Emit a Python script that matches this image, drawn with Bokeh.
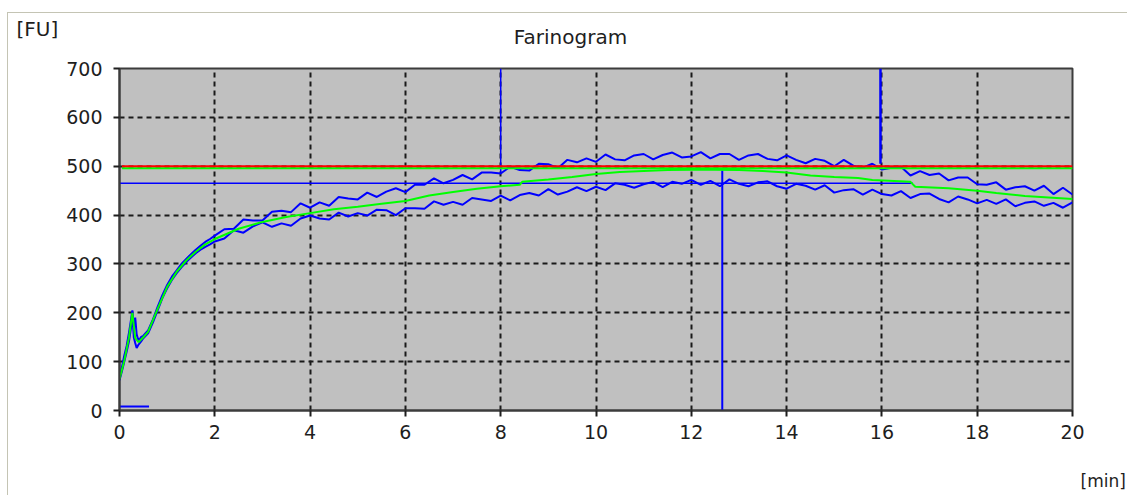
from bokeh.plotting import figure
from bokeh.models import Range1d, FixedTicker
from bokeh.layouts import column
from bokeh.core.properties import value
from bokeh.embed import file_html
from bokeh.resources import INLINE

# ---- data (minutes, FU) ----
t_early = [0.0, 0.05, 0.1, 0.15, 0.2, 0.24, 0.27, 0.3, 0.33, 0.36, 0.4, 0.45, 0.5, 0.6,
           0.7, 0.8, 0.9, 1.0, 1.1, 1.2, 1.3, 1.4, 1.5, 1.6, 1.7, 1.8, 1.9, 2.0]
upper_early = [66, 88, 112, 132, 160, 185, 205, 172, 190, 156, 142, 150, 153, 164,
               186, 212, 236, 257, 274, 287, 300, 310, 320, 329, 337, 345, 351, 358]
lower_early = [62, 80, 100, 120, 142, 168, 196, 150, 138, 128, 135, 141, 148, 158,
               180, 205, 230, 250, 267, 281, 293, 304, 313, 322, 329, 335, 340, 346]

t_main = [2.2, 2.4, 2.6, 2.8, 3.0, 3.2, 3.4, 3.6, 3.8, 4.0, 4.2, 4.4, 4.6, 4.8, 5.0,
          5.2, 5.4, 5.6, 5.8, 6.0, 6.2, 6.4, 6.6, 6.8, 7.0, 7.2, 7.4, 7.6, 7.8, 8.0,
          8.2, 8.4, 8.6, 8.8, 9.0, 9.2, 9.4, 9.6, 9.8, 10.0, 10.2, 10.4, 10.6, 10.8, 11.0,
          11.2, 11.4, 11.6, 11.8, 12.0, 12.2, 12.4, 12.6, 12.8, 13.0, 13.2, 13.4, 13.6, 13.8, 14.0,
          14.2, 14.4, 14.6, 14.8, 15.0, 15.2, 15.4, 15.6, 15.8, 16.0, 16.2, 16.4, 16.6, 16.8, 17.0,
          17.2, 17.4, 17.6, 17.8, 18.0, 18.2, 18.4, 18.6, 18.8, 19.0, 19.2, 19.4, 19.6, 19.8, 20.0]
upper_main = [371, 372, 391, 389, 389, 407, 409, 406, 424, 415, 426, 419, 437, 434, 432,
              446, 437, 448, 455, 447, 462, 462, 475, 465, 472, 482, 473, 487, 487, 485,
              499, 492, 491, 505, 504, 496, 513, 508, 516, 509, 524, 514, 512, 522, 525,
              514, 523, 528, 518, 520, 529, 516, 525, 525, 513, 522, 525, 515, 512, 522,
              513, 506, 515, 511, 500, 513, 501, 497, 505, 493, 497, 499, 481, 490, 482,
              485, 471, 477, 477, 463, 462, 467, 452, 457, 459, 450, 460, 443, 456, 442]
lower_main = [352, 369, 364, 377, 385, 376, 383, 378, 393, 399, 393, 391, 405, 397, 404,
              399, 411, 410, 400, 414, 414, 413, 428, 421, 427, 421, 435, 432, 429, 440,
              430, 441, 445, 440, 453, 442, 448, 457, 449, 458, 451, 465, 462, 456, 463,
              468, 457, 468, 464, 472, 462, 470, 459, 473, 464, 459, 467, 469, 459, 454,
              464, 460, 452, 461, 446, 451, 453, 442, 452, 443, 440, 449, 435, 443, 444,
              433, 426, 438, 432, 424, 431, 423, 432, 418, 425, 428, 419, 425, 415, 426]

t_med = [0, 0.1, 0.2, 0.27, 0.33, 0.4, 0.5, 0.6, 0.8, 1.0, 1.2, 1.4, 1.6, 1.8, 2.0, 2.5,
         3.0, 3.5, 4.0, 4.5, 5.0, 5.5, 6.0, 6.5, 7.0, 7.5, 8.0, 8.4, 8.45, 9.0, 9.5, 10.0,
         10.5, 11.0, 11.5, 12.0, 12.5, 13.0, 13.5, 14.0, 14.5, 15.0, 15.5, 15.8, 16.6, 16.7,
         17.4, 18.0, 18.4, 19.0, 19.5, 20.0]
median = [64, 102, 150, 200, 148, 140, 150, 161, 208, 253, 284, 307, 325, 340, 351, 372,
          386, 396, 404, 412, 417, 423, 429, 440, 447, 454, 459, 462, 468, 473, 478, 484,
          488, 490, 492, 493, 493, 492, 490, 487, 481, 478, 476, 472, 468, 458,
          455, 450, 445, 439, 436, 433]

consistency_line = 500          # FU target (red)
consistency_green = 496         # green reference just under the red line
dev_level = 465                 # blue horizontal marker
dev_level_end = 16.65
arrival_time = 8.0              # blue vertical marker
arrival_top, arrival_bottom = 700, 487
stability_time = 12.65          # blue vertical marker down to axis
stability_top = 491
spike_time = 15.97
spike_top, spike_bottom = 700, 505
base_seg_x = [0.0, 0.62]
base_seg_y = [8, 8]

x_ticks = [0, 2, 4, 6, 8, 10, 12, 14, 16, 18, 20]
y_ticks = [0, 100, 200, 300, 400, 500, 600, 700]

title_text = "Farinogram"
y_unit = "[FU]"
x_unit = "[min]"

FONT = "DejaVu Sans"
TXT = "#1e1e1e"
W = 1119
HEADER_H = 43
MAIN_H = 391
FOOTER_H = 48


def text_strip(height):
    f = figure(width=W, height=height, output_backend="svg", toolbar_location=None,
               x_range=Range1d(0, W), y_range=Range1d(height, 0),
               x_axis_type=None, y_axis_type=None, min_border=0,
               background_fill_color="white", border_fill_color="white")
    f.frame_align = False
    f.title = None
    f.outline_line_color = None
    f.xgrid.visible = False
    f.ygrid.visible = False
    return f


# ---- header: unit of the y axis and chart title ----
header = text_strip(HEADER_H)
header.text(x=[8], y=[15], text=[y_unit], text_font=value(FONT), text_font_size=value("20px"),
            text_color=TXT, text_align="left", text_baseline="middle")
header.text(x=[562], y=[23], text=[title_text], text_font=value(FONT),
            text_font_size=value("20px"), text_color=TXT, text_align="center",
            text_baseline="middle")

# ---- main plot ----
p = figure(width=W, height=MAIN_H, output_backend="svg", toolbar_location=None,
           x_range=Range1d(0, 20), y_range=Range1d(0, 700),
           min_border_left=111, min_border_right=55, min_border_top=12, min_border_bottom=37,
           background_fill_color="#c0c0c0", border_fill_color="white")
p.title = None
p.outline_line_color = "#3c3c3c"
p.outline_line_width = 2

for ax in (p.xaxis[0], p.yaxis[0]):
    ax.axis_line_color = "#3c3c3c"
    ax.axis_line_width = 2
    ax.major_tick_line_color = "#1e1e1e"
    ax.major_tick_line_width = 2
    ax.major_tick_out = 6
    ax.major_tick_in = 0
    ax.minor_tick_line_color = None
    ax.major_label_text_font = FONT
    ax.major_label_text_font_size = "19px"
    ax.major_label_text_color = TXT
p.xaxis[0].ticker = FixedTicker(ticks=x_ticks)
p.yaxis[0].ticker = FixedTicker(ticks=y_ticks)
p.xaxis[0].major_label_standoff = 8
p.yaxis[0].major_label_standoff = 11

for g in (p.xgrid[0], p.ygrid[0]):
    g.grid_line_color = "#1a1a1a"
    g.grid_line_width = 2
    g.grid_line_dash = "5 4"
p.xgrid[0].ticker = FixedTicker(ticks=x_ticks)
p.ygrid[0].ticker = FixedTicker(ticks=y_ticks)

BLUE = "#0000ff"
GREEN = "#00ff00"
RED = "#ff0000"

t_env = t_early + t_main
p.line(t_env, upper_early + upper_main, line_color=BLUE, line_width=2)
p.line(t_env, lower_early + lower_main, line_color=BLUE, line_width=2)

p.line([0, dev_level_end], [dev_level, dev_level], line_color=BLUE, line_width=1.5)
p.line([arrival_time, arrival_time], [arrival_top, arrival_bottom], line_color=BLUE, line_width=1.5)
p.line([stability_time, stability_time], [stability_top, 0], line_color=BLUE, line_width=2)
p.line([spike_time, spike_time], [spike_top, spike_bottom], line_color=BLUE, line_width=2.5)
p.line(base_seg_x, base_seg_y, line_color=BLUE, line_width=2)

p.line(t_med, median, line_color=GREEN, line_width=2)
p.line([0.05, 20], [consistency_green, consistency_green], line_color=GREEN, line_width=2)
p.line([0.05, 20], [consistency_line, consistency_line], line_color=RED, line_width=2)

# ---- footer: unit of the x axis ----
footer = text_strip(FOOTER_H)
footer.text(x=[1072], y=[33], text=[x_unit], text_font=value(FONT),
            text_font_size=value("17px"), text_color=TXT, text_align="left",
            text_baseline="middle")

layout = column(header, p, footer, spacing=0,
                styles={"margin-top": "12px", "margin-left": "7px",
                        "border-top": "1px solid #c4c4b4",
                        "border-left": "1px solid #c4c4b4"})

open("out.html", "w").write(file_html(layout, INLINE))
